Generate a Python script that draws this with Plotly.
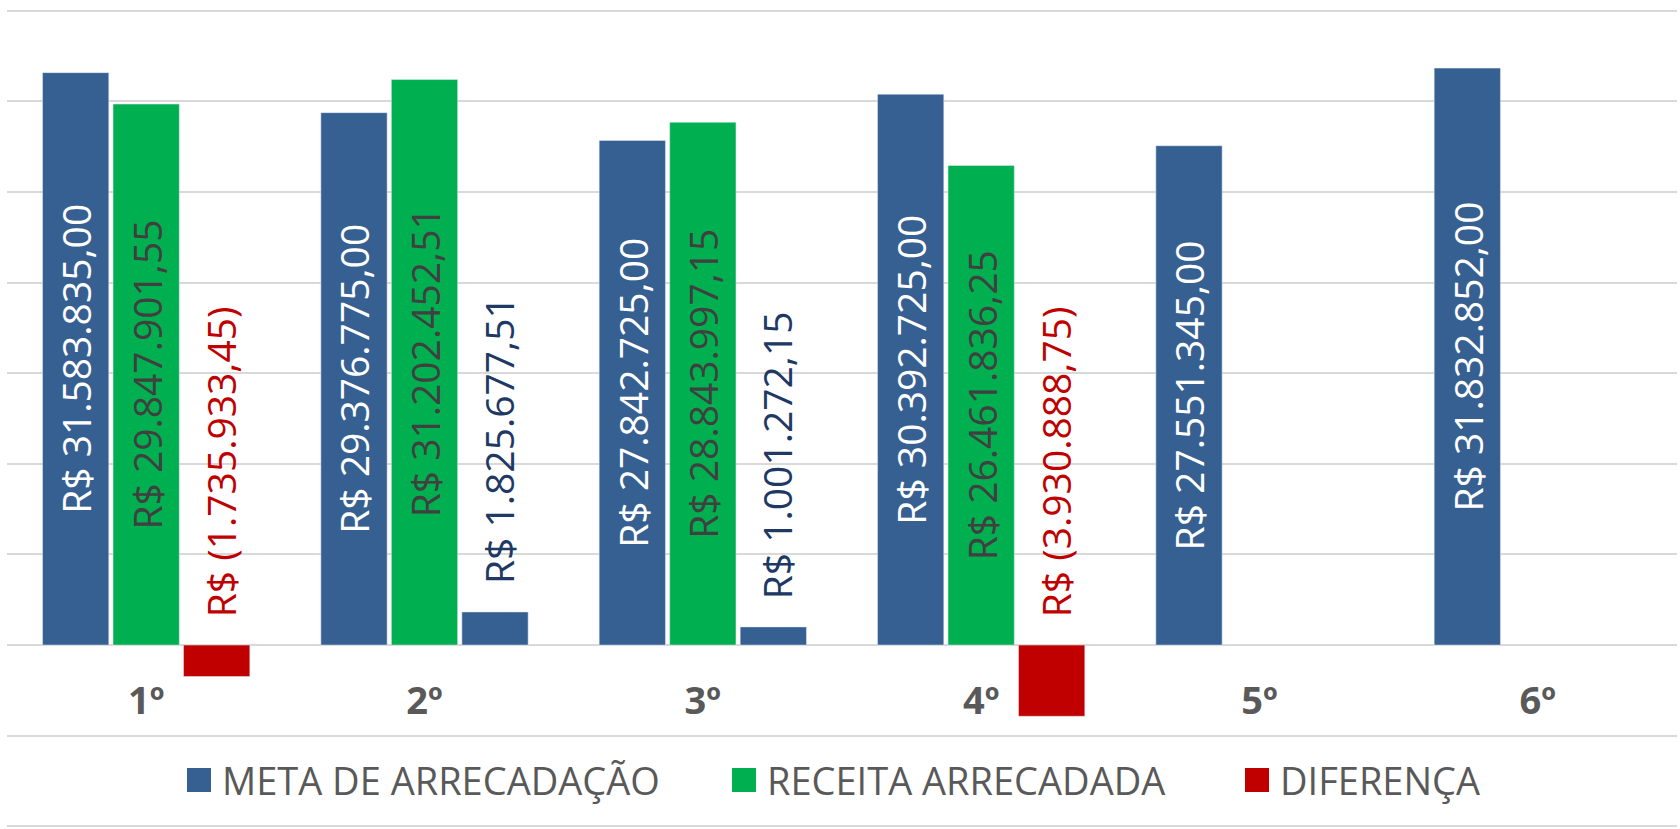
import plotly.graph_objects as go

categories = ["1º", "2º", "3º", "4º", "5º", "6º"]
meta = [31583835.00, 29376775.00, 27842725.00, 30392725.00, 27551345.00, 31832852.00]
receita = [29847901.55, 31202452.51, 28843997.15, 26461836.25, None, None]
diferenca = [-1735933.45, 1825677.51, 1001272.15, -3930888.75, None, None]
series_names = ["META DE ARRECADAÇÃO", "RECEITA ARRECADADA", "DIFERENÇA"]

C_META = "#376092"
C_REC = "#00B050"
C_DIF = "#C00000"
C_POS = "#203864"
FONT = "Open Sans"
Y_MIN, Y_MAX = -10e6, 35e6
PAD = 1.5e5


def brl(v):
    s = f"{abs(v):,.2f}".replace(",", "X").replace(".", ",").replace("X", ".")
    return f"R$ ({s})" if v < 0 else f"R$ {s}"


W, H = 1680, 829
ML, MR, MT, MB = 7, 3, 8, 0
BARGAP, GROUPGAP = 0.24, 0.06

fig = go.Figure()
fig.add_trace(go.Bar(
    x=categories, y=meta, name=series_names[0], marker_color=C_META,
    text=[brl(v) for v in meta], textposition="inside", insidetextanchor="middle",
    textangle=-90, insidetextfont=dict(family=FONT, size=39, color="white"),
    showlegend=False, hoverinfo="skip"))
fig.add_trace(go.Bar(
    x=categories, y=receita, name=series_names[1], marker_color=C_REC,
    text=[brl(v) if v is not None else "" for v in receita], textposition="inside",
    insidetextanchor="middle", textangle=-90,
    insidetextfont=dict(family=FONT, size=39, color="#404040"),
    showlegend=False, hoverinfo="skip"))
fig.add_trace(go.Bar(
    x=categories, y=diferenca, name=series_names[2],
    marker_color=[C_DIF if (v is not None and v < 0) else C_META for v in diferenca],
    showlegend=False, hoverinfo="skip"))

plot_w = W - ML - MR
plot_h = H - MT - MB
slot = plot_w / len(categories) * (1 - BARGAP) / 3

annotations = []
for c, v in zip(categories, diferenca):
    if v is None:
        continue
    annotations.append(dict(
        x=c, y=max(v, 0), xref="x", yref="y", text=brl(v), showarrow=False,
        textangle=-90, xanchor="center", yanchor="bottom", xshift=slot + 4, yshift=26,
        font=dict(family=FONT, size=39, color=C_DIF if v < 0 else C_POS)))


def px2paper_x(px):
    return (px - ML) / plot_w


def px2paper_y(py):
    return 1 - (py - MT) / plot_h


legend_items = [(series_names[0], C_META, 187), (series_names[1], C_REC, 732), (series_names[2], C_DIF, 1245)]
shapes = []
for name, col, sx in legend_items:
    shapes.append(dict(type="rect", xref="paper", yref="paper",
                       x0=px2paper_x(sx), x1=px2paper_x(sx + 24),
                       y0=px2paper_y(792), y1=px2paper_y(768),
                       fillcolor=col, line=dict(width=0)))
    annotations.append(dict(x=px2paper_x(sx + 33), y=px2paper_y(780), xref="paper", yref="paper",
                            text=name, showarrow=False, xanchor="left", yanchor="middle",
                            font=dict(family=FONT, size=38, color="#595959")))

y_lo, y_hi = Y_MIN - PAD, Y_MAX + PAD
fig.update_layout(
    width=W, height=H, margin=dict(l=ML, r=MR, t=MT, b=MB),
    paper_bgcolor="white", plot_bgcolor="white",
    barmode="group", bargap=BARGAP, bargroupgap=GROUPGAP,
    annotations=annotations, shapes=shapes, showlegend=False,
    font=dict(family=FONT),
    xaxis=dict(anchor="free", position=(0 - y_lo) / (y_hi - y_lo), showline=False,
               ticks="", ticklabelstandoff=30, showgrid=False,
               tickfont=dict(family=FONT, size=38, color="#595959", weight="bold")),
    yaxis=dict(range=[y_lo, y_hi], dtick=5e6, tick0=0, showticklabels=False,
               gridcolor="#D9D9D9", gridwidth=1.5, zeroline=True, zerolinecolor="#D9D9D9",
               zerolinewidth=1.5, fixedrange=True),
)

fig.write_html("out.html", config={"displayModeBar": False},
               post_script="document.body.style.margin='0';")
